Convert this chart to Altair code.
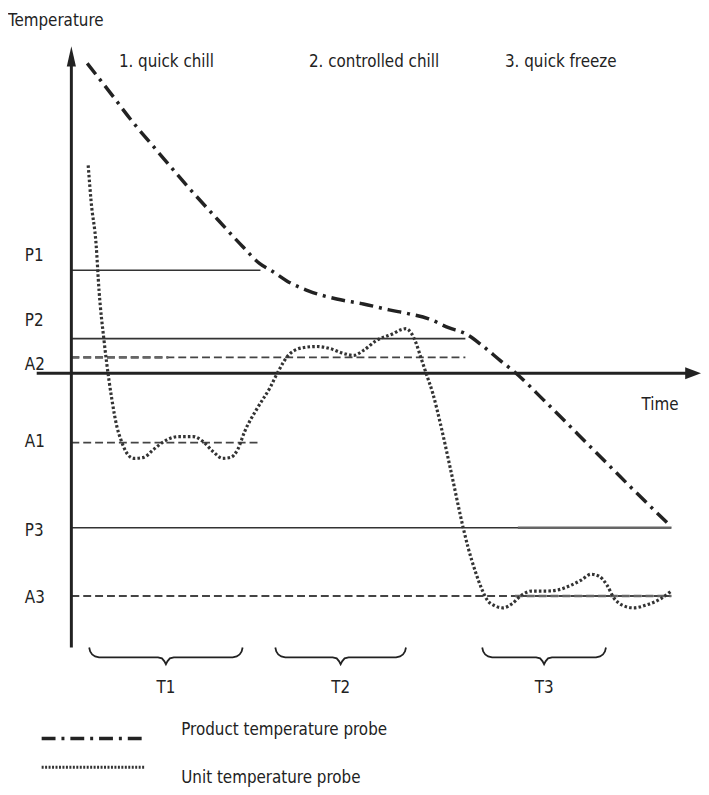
import altair as alt
import pandas as pd

FONT = "DejaVu Sans Condensed, Liberation Sans Narrow, sans-serif"
FS = 17
INK = "#222222"

# ---- data (time t, temperature T in schematic units; axes cross at 0,0) ----
prod_t = [16, 38, 61, 88, 118, 148, 173, 190, 203, 218, 240, 268, 295, 321, 341, 361,
          381, 398, 415, 433, 448, 478, 528, 568, 606]
prod_T = [313, 285, 255, 223, 188, 155, 128, 111, 103, 93, 83, 75, 70, 64, 60, 55,
          46, 40, 28, 13, 1, -28, -78, -118, -155]

unit_t = [17, 20, 25, 28, 33, 38, 41, 46, 50, 55, 63, 73, 83, 95, 108, 123, 133, 143,
          153, 161, 168, 175, 188, 201, 208, 221, 235, 248, 261, 275, 285, 295, 308,
          325, 333, 338, 343, 348, 353, 359, 365, 373, 383, 396, 401, 408, 415, 420,
          428, 436, 445, 455, 465, 481, 491, 505, 515, 525, 533, 541, 548, 556, 568,
          581, 595, 606]
unit_T = [210, 173, 130, 83, 33, -7, -27, -54, -67, -79, -86, -85, -77, -68, -64, -64,
          -69, -79, -86, -85, -77, -59, -35, -14, 0, 20, 26, 27, 25, 20, 18, 23, 33,
          40, 44, 45, 41, 31, 16, -2, -20, -52, -97, -157, -177, -200, -219, -229,
          -235, -237, -233, -224, -220, -220, -219, -214, -209, -203, -205, -214,
          -227, -234, -237, -234, -228, -220]

ref_names = ["P1", "P2", "P3", "A1", "A2", "A3"]
ref_level = [104, 35, -156, -70, 16, -225]
ref_start = [0, 0, 0, 0, 0, 0]
ref_end = [191, 398, 606, 191, 398, 606]
ref_label_T = [118, 53, -159, -70, 8, -227]

# heavier grey stretches visible on some reference lines
heavy_names = ["P3", "A2", "A3"]
heavy_start = [451, 0, 448]
heavy_end = [606, 98, 606]

phase_labels = ["1. quick chill", "2. controlled chill", "3. quick freeze"]
phase_t = [48, 240, 438]

brace_names = ["T1", "T2", "T3"]
brace_start = [18, 206, 415]
brace_end = [173, 338, 540]

legend_labels = ["Product temperature probe", "Unit temperature probe"]

# ---- scales: 1 unit = 1 px ----
W, H = 700, 779
xs = alt.Scale(domain=[-64, 636], nice=False, zero=False)
ys = alt.Scale(domain=[-414, 365], nice=False, zero=False)
X = lambda: alt.X("t:Q", scale=xs, axis=None)
Y = lambda: alt.Y("T:Q", scale=ys, axis=None)

# reference lines
rows = []
for n, lv, s, e in zip(ref_names, ref_level, ref_start, ref_end):
    rows += [{"name": n, "t": s, "T": lv}, {"name": n, "t": e, "T": lv}]
refs = pd.DataFrame(rows)
solid_refs = alt.Chart(refs[refs.name.str.startswith("P")]).mark_line(
    color="#333", strokeWidth=1.6).encode(x=X(), y=Y(), detail="name:N")
dash_refs = alt.Chart(refs[refs.name.str.startswith("A")]).mark_line(
    color="#444", strokeWidth=1.8, strokeDash=[8, 4]).encode(x=X(), y=Y(), detail="name:N")

hrows = []
for n, s, e in zip(heavy_names, heavy_start, heavy_end):
    lv = ref_level[ref_names.index(n)]
    hrows += [{"name": n, "t": s, "T": lv}, {"name": n, "t": e, "T": lv}]
heavy = pd.DataFrame(hrows)
heavy_solid = alt.Chart(heavy[heavy.name.str.startswith("P")]).mark_line(
    color="#666", strokeWidth=2.6).encode(x=X(), y=Y(), detail="name:N")
heavy_dash = alt.Chart(heavy[heavy.name.str.startswith("A")]).mark_line(
    color="#666", strokeWidth=2.6, strokeDash=[8, 4]).encode(x=X(), y=Y(), detail="name:N")

# axes
axes_df = pd.DataFrame([
    {"name": "y", "t": 0, "T": -277}, {"name": "y", "t": 0, "T": 312},
    {"name": "x", "t": -35, "T": 0}, {"name": "x", "t": 624, "T": 0},
])
axes = alt.Chart(axes_df).mark_line(color=INK, strokeWidth=3).encode(
    x=X(), y=Y(), detail="name:N")
up_arrow = alt.Chart(pd.DataFrame({"t": [0], "T": [320]})).mark_point(
    shape="M0,-1L0.45,1L-0.45,1Z", size=420, filled=True, color=INK, opacity=1
).encode(x=X(), y=Y())
right_arrow = alt.Chart(pd.DataFrame({"t": [628], "T": [0]})).mark_point(
    shape="M1,0L-1,-0.75L-1,0.75Z", size=256, filled=True, color=INK, opacity=1
).encode(x=X(), y=Y())

# curves
prod = alt.Chart(pd.DataFrame({"t": prod_t, "T": prod_T})).mark_line(
    color=INK, strokeWidth=3.5, strokeDash=[14, 6, 3, 6], interpolate="monotone"
).encode(x=X(), y=Y())
unit = alt.Chart(pd.DataFrame({"t": unit_t, "T": unit_T})).mark_line(
    color="#333", strokeWidth=3.2, strokeDash=[2.6, 2.2], interpolate="monotone"
).encode(x=X(), y=Y())

# braces
brow = []
for n, a, b in zip(brace_names, brace_start, brace_end):
    w = b - a
    c = w / 2
    tmpl = [(0, 0), (1, 4), (3, 7), (6, 9), (10, 10), (c - 8, 10), (c - 4, 11),
            (c - 1.5, 14), (c, 17), (c + 1.5, 14), (c + 4, 11), (c + 8, 10),
            (w - 10, 10), (w - 6, 9), (w - 3, 7), (w - 1, 4), (w, 0)]
    for i, (dx, dy) in enumerate(tmpl):
        brow.append({"name": n, "t": a + dx, "T": -277 - dy, "o": i})
braces = alt.Chart(pd.DataFrame(brow)).mark_line(color=INK, strokeWidth=1.8).encode(
    x=X(), y=Y(), detail="name:N", order="o:Q")

# texts
txt_rows = [{"label": "Temperature", "t": -64, "T": 356}]
txt_rows += [{"label": l, "t": t, "T": 314} for l, t in zip(phase_labels, phase_t)]
txt_rows += [{"label": n, "t": -47, "T": lt} for n, lt in zip(ref_names, ref_label_T)]
txt_rows += [{"label": "Time", "t": 576, "T": -32}]
txt_rows += [{"label": legend_labels[0], "t": 111, "T": -360},
             {"label": legend_labels[1], "t": 111, "T": -409}]
texts = alt.Chart(pd.DataFrame(txt_rows)).mark_text(
    align="left", baseline="middle", font=FONT, fontSize=FS, color=INK
).encode(x=X(), y=Y(), text="label:N")
tlabels = alt.Chart(pd.DataFrame({
    "label": brace_names,
    "t": [(a + b) / 2 for a, b in zip(brace_start, brace_end)],
    "T": [-318] * 3})).mark_text(
    align="center", baseline="middle", font=FONT, fontSize=FS, color=INK
).encode(x=X(), y=Y(), text="label:N")

# legend samples
leg_prod = alt.Chart(pd.DataFrame({"t": [-30, 75], "T": [-369, -369]})).mark_line(
    color=INK, strokeWidth=3.5, strokeDash=[14, 6, 3, 6]).encode(x=X(), y=Y())
leg_unit = alt.Chart(pd.DataFrame({"t": [-30, 75], "T": [-398, -398]})).mark_line(
    color="#333", strokeWidth=3, strokeDash=[2, 1.5]).encode(x=X(), y=Y())

chart = alt.layer(
    solid_refs, dash_refs, heavy_solid, heavy_dash, axes, up_arrow, right_arrow,
    prod, unit, braces, texts, tlabels, leg_prod, leg_unit
).properties(
    width=W, height=H, padding=0, autosize=alt.AutoSizeParams(type="none"),
    background="white"
).configure_view(stroke=None)

chart.save("out.html", embed_options={"renderer": "svg", "actions": False})
